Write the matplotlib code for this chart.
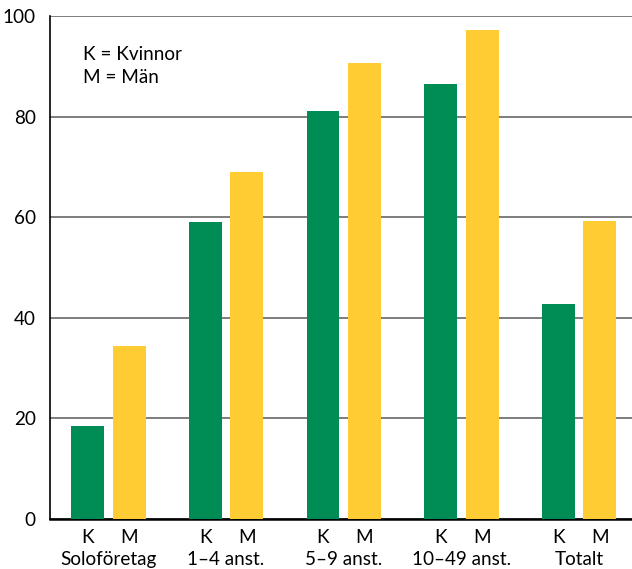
import numpy as np
import matplotlib.pyplot as plt
from matplotlib.transforms import blended_transform_factory

plt.rcParams['font.family'] = ['Lato', 'DejaVu Sans']

# data
groups = ['Soloföretag', '1–4 anst.', '5–9 anst.', '10–49 anst.', 'Totalt']
kvinnor = [18.5, 59.0, 81.2, 86.5, 42.8]
man = [34.3, 68.9, 90.6, 97.2, 59.2]
yticks = [0, 20, 40, 60, 80, 100]

green = '#008c55'
yellow = '#ffcd33'
fs = 13.6

fig = plt.figure(figsize=(6.32, 5.69), dpi=100)
ax = fig.add_axes([49.5 / 632, 50 / 569, 1 - 49.5 / 632, 503 / 569])

x = np.arange(len(groups))
w = 0.28
off = 0.176
ax.bar(x - off, kvinnor, width=w, color=green, zorder=3)
ax.bar(x + off, man, width=w, color=yellow, zorder=3)

ax.set_xlim(-0.5, 4.45)
ax.set_ylim(0, 100)
ax.set_yticks(yticks)
ax.yaxis.grid(True, color='#5a5a5a', linewidth=1.1, zorder=1)
ax.tick_params(axis='y', length=0, pad=10, labelsize=fs)

pos = np.sort(np.concatenate([x - off, x + off]))
ax.set_xticks(pos)
ax.set_xticklabels(['K', 'M'] * len(groups))
ax.tick_params(axis='x', length=0, pad=7, labelsize=fs)

trans = blended_transform_factory(ax.transData, ax.transAxes)
for xi, g in zip(x, groups):
    ax.text(xi, -0.08, g, transform=trans, ha='center', va='center', fontsize=fs)

for s in ['top', 'right']:
    ax.spines[s].set_visible(False)
ax.spines['left'].set_linewidth(1.2)
ax.spines['bottom'].set_linewidth(1.8)

ax.text(0.058, 0.924, 'K = Kvinnor', transform=ax.transAxes, va='center', fontsize=fs)
ax.text(0.058, 0.878, 'M = Män', transform=ax.transAxes, va='center', fontsize=fs)

fig.savefig('out.png', dpi=100)
